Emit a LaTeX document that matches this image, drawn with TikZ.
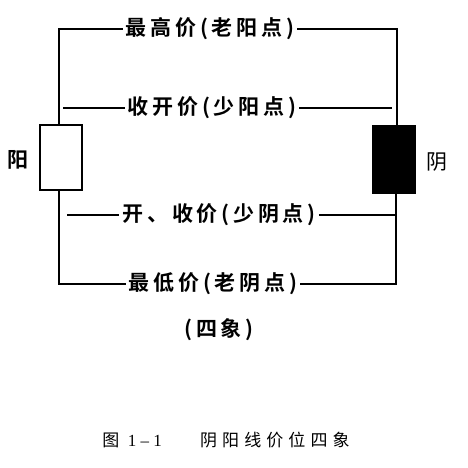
\documentclass[tikz,border=0pt]{standalone}
\usepackage{fontspec}
\setmainfont{Liberation Serif}
\newfontfamily\cjk{Noto Sans CJK SC}[BoldFont={Noto Sans CJK SC Bold}]
\begin{document}
\begin{tikzpicture}[x=1pt,y=-1pt,
  wire/.style={line width=2pt},
  lbl/.style={font=\cjk\bfseries\fontsize{21}{23}\selectfont\addfontfeature{LetterSpace=18}, inner sep=3pt},
  side/.style={font=\cjk\fontsize{21}{23}\selectfont, inner sep=0pt}]
\useasboundingbox (0,0) rectangle (468,467);
% candles
\node[draw, line width=2pt, fill=white, minimum width=42pt, minimum height=65pt, inner sep=0pt] (yangbox) at (61,157.5) {};
\node[draw, line width=1pt, fill=black, minimum width=43pt, minimum height=68pt, inner sep=0pt] (yinbox) at (393.5,159) {};
\node[side, font=\cjk\bfseries\fontsize{21}{23}\selectfont] (yang) at (18,160) {阳};
\node[side] (yin) at (437,162) {阴};
% labels
\node[lbl] (n1) at (210,29) {最高价(老阳点)};
\node[lbl] (n2) at (212,108) {收开价(少阳点)};
\node[lbl] (n3) at (219,215) {开、收价(少阴点)};
\node[lbl] (n4) at (213,284) {最低价(老阴点)};
\node[lbl] (n5) at (219,330) {(四象)};
% coordinates
\coordinate (tl) at (59,29);
\coordinate (tr) at (397,29);
\coordinate (bl) at (59,284);
\coordinate (br) at (396,284);
\coordinate (a2) at (63,108);
\coordinate (b2) at (392,108);
\coordinate (a3) at (67,215);
\coordinate (b3) at (396,215);
% wires
\draw[wire] (yangbox.north -| tl) -- (tl) -- (n1.west);
\draw[wire] (n1.east) -- (tr) -- (yinbox.north -| tr);
\draw[wire] (a2) -- (n2.west);
\draw[wire] (n2.east) -- (b2);
\draw[wire] (yangbox.south -| bl) -- (bl) -- (n4.west);
\draw[wire] (n4.east) -- (br) -- (yinbox.south -| br);
\draw[wire] (a3) -- (n3.west);
\draw[wire] (n3.east) -- (b3);
% caption
\node[font=\fontsize{17}{19}\selectfont, inner sep=0pt] (cap) at (226,440) {{\cjk 图}\ \ 1\ --\ 1\qquad\ {\cjk\addfontfeature{LetterSpace=30} 阴阳线价位四象}};
\end{tikzpicture}
\end{document}
